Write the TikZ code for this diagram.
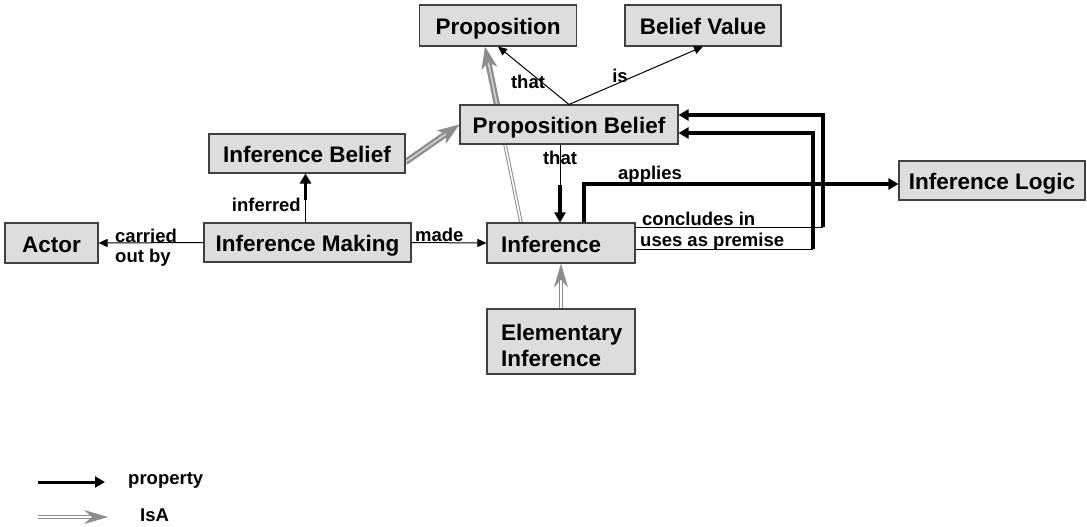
\documentclass[tikz,border=0pt]{standalone}
\usepackage{fontspec}
\setmainfont{Liberation Sans}
\usetikzlibrary{arrows.meta,calc}
\pgfdeclarelayer{bg}
\pgfsetlayers{bg,main}
\definecolor{isagray}{RGB}{140,140,140}
\definecolor{boxfill}{RGB}{221,221,221}
\definecolor{boxline}{RGB}{64,64,64}

\begin{document}
\begin{tikzpicture}[x=1pt,y=-1pt,
  box/.style={draw=boxline, line width=1.1pt, fill=boxfill, inner sep=0pt,
    font=\fontsize{22.5}{26}\selectfont\bfseries},
  oneline/.style={box, text height=18.5pt, text depth=0pt},
  lbl/.style={inner sep=0pt, font=\fontsize{18.5}{20}\selectfont\bfseries},
  rel/.style={draw=black, line width=1pt, -{Triangle[length=9pt,width=8pt]}},
  relline/.style={draw=black, line width=1pt},
  relthick/.style={draw=black, line width=3.5pt, -{Triangle[length=10pt,width=11pt]}},
  isaline/.style={draw=isagray, line width=1pt, double=white, double distance=1.6pt},
  isa/.style={isaline, -{Stealth[length=24pt,width=14pt,inset=8pt,fill=isagray]}},
  isathick/.style={draw=isagray, line width=2.2pt, double=white!55!isagray, double distance=1.8pt,
    -{Stealth[length=22pt,width=16pt,inset=6pt,fill=isagray]}}
]
\useasboundingbox (0,0) rectangle (1087,527);

% concept boxes
\node[oneline, minimum width=157pt, minimum height=41pt] (prop) at (498,25.5) {Proposition};
\node[oneline, minimum width=156pt, minimum height=41pt] (bval) at (703,25.5) {Belief Value};
\node[oneline, minimum width=218pt, minimum height=39pt] (pbel) at (569,124.5) {Proposition Belief};
\node[oneline, minimum width=196pt, minimum height=39pt] (ibel) at (307,153.5) {Inference Belief};
\node[oneline, minimum width=93pt, minimum height=40pt] (actor) at (51.5,243) {Actor};
\node[oneline, minimum width=207pt, minimum height=39pt] (imak) at (307.5,242.5) {Inference Making};
\node[oneline, minimum width=148pt, minimum height=40pt, text width=120pt, align=left] (inf) at (561,243) {Inference};
\node[box, minimum width=148pt, minimum height=65pt, text width=120pt, align=left] (elem) at (561,341.5) {\rule{0pt}{24pt}Elementary\\Inference};
\node[oneline, minimum width=186pt, minimum height=39pt] (ilog) at (992,180.5) {Inference Logic};

% IsA links (kept under the boxes)
\coordinate (isaS) at ($(inf.north)+(-40,0)$);
\coordinate (isaE) at ($(prop.south)+(-13,0)$);
\coordinate (isaM) at ($(isaS)!0.667!(isaE)$);
\begin{pgfonlayer}{bg}
  \draw[isaline] (isaS) -- (isaM);
  \draw[isathick] (isaM) -- (isaE);
  \draw[isathick] ($(ibel.east)+(0,8.5)$) -- (pbel.west);
  \draw[isa] (elem.north) -- (inf.south);
\end{pgfonlayer}

% Proposition Belief -> Proposition / Belief Value
\draw[rel] (pbel.north) -- (prop.south);
\draw[rel] (pbel.north) -- (bval.south);
\node[lbl] (lthat1) at (528,82) {that};
\node[lbl] (lis) at (620,76) {is};

% Proposition Belief -> Inference
\coordinate (thatTop) at ($(pbel.south)+(-9,0)$);
\coordinate (thatBot) at (thatTop |- inf.north);
\coordinate (thatMid) at (thatTop |- 0,185);
\draw[relline] (thatTop) -- (thatMid);
\draw[relthick] (thatMid) -- (thatBot);
\node[lbl] (lthat2) at (560,158) {that};

% Inference Making -> Inference Belief
\coordinate (infdTop) at ($(imak.north)+(-2,0)$);
\coordinate (infdMid) at (infdTop |- 0,200);
\coordinate (infdEnd) at (infdTop |- ibel.south);
\draw[relline] (infdTop) -- (infdMid);
\draw[relthick] (infdMid) -- (infdEnd);
\node[lbl, anchor=east] (linf) at (301,205) {inferred};

% Inference Making -> Actor / Inference
\draw[rel] (imak.west) -- (actor.east);
\node[lbl, anchor=base west] (lcar) at (115,242) {carried};
\node[lbl, anchor=base west] (lout) at (115,262) {out by};
\draw[rel] (imak.east) -- (inf.west);
\node[lbl, anchor=base west] (lmade) at (415,241) {made};

% Inference -> Inference Logic
\draw[relthick] ($(inf.north)+(23,0)$) |- ($(ilog.west)+(0,3.5)$);
\node[lbl, anchor=base west] (lapp) at (618,179.5) {applies};

% Inference -> Proposition Belief (conclusion and premises)
\coordinate (cA) at ($(inf.east)+(0,-16)$);
\coordinate (cB) at (cA -| 823,0);
\coordinate (cC) at ($(pbel.east)+(0,-9.5)$);
\draw[relline] (cA) -- (cB);
\draw[relthick] (cB) |- (cC);
\node[lbl, anchor=base west] (lconc) at (642,225) {concludes in};

\coordinate (uA) at ($(inf.east)+(0,6)$);
\coordinate (uB) at (uA -| 813,0);
\coordinate (uC) at ($(pbel.east)+(0,8.5)$);
\draw[relline] (uA) -- (uB);
\draw[relthick] (uB) |- (uC);
\node[lbl, anchor=base west] (luses) at (640,246) {uses as premise};

% legend
\coordinate (lgP1) at (38,482);
\coordinate (lgP2) at (105,482);
\draw[relthick, line width=3pt] (lgP1) -- (lgP2);
\node[lbl, anchor=west] (lgprop) at (128,480) {property};
\coordinate (lgI1) at (38,517);
\coordinate (lgI2) at (108,517);
\draw[isa] (lgI1) -- (lgI2);
\node[lbl, anchor=west] (lgisa) at (140,515) {IsA};
\end{tikzpicture}
\end{document}
